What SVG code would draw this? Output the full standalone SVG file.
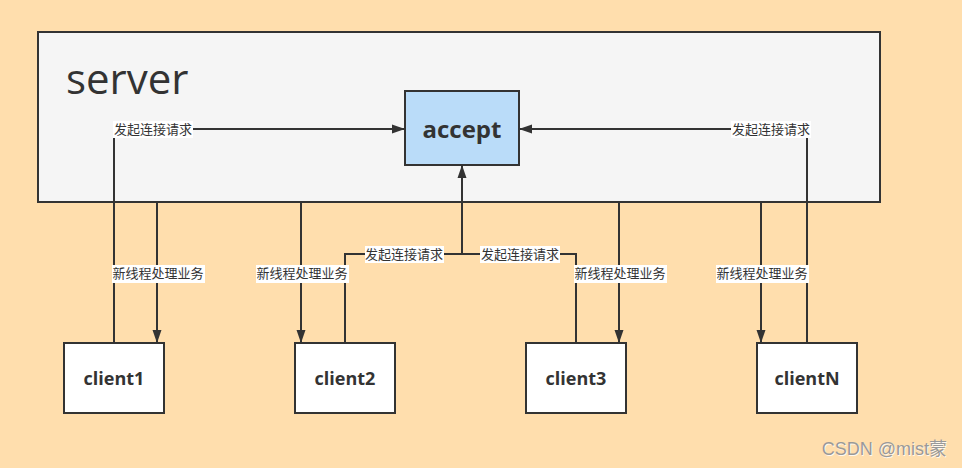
<svg xmlns="http://www.w3.org/2000/svg" width="962" height="468" viewBox="0 0 962 468">
<defs>
<style>
.box{stroke:#333;stroke-width:2}
.node-text{font-family:"Open Sans","Noto Sans",sans-serif;font-weight:bold;fill:#333;text-anchor:middle}
.edge{fill:none;stroke:#333;stroke-width:2}
.lbl-bg{fill:#fff}
.lbl{font-family:"Noto Sans CJK SC","Noto Sans",sans-serif;font-size:13px;fill:#333;text-anchor:middle}
</style>
<marker id="arr" markerUnits="userSpaceOnUse" markerWidth="14" markerHeight="10" refX="13" refY="5" orient="auto" viewBox="0 0 14 10">
<path d="M0,0.5 L13,5 L0,9.5 Z" fill="#333"/>
</marker>
</defs>
<rect width="962" height="468" fill="#FFDEAD"/>
<g id="server">
<rect class="box" x="38" y="32" width="842" height="170" fill="#F5F5F5"/>
<text x="66" y="94" font-family="Open Sans, Noto Sans, sans-serif" font-size="42" fill="#333">server</text>
</g>
<g id="accept">
<rect class="box" x="405" y="91" width="114" height="74" fill="#BADCF9"/>
<text class="node-text" x="462" y="138" font-size="24">accept</text>
</g>
<g id="client1">
<rect class="box" x="64" y="343" width="100" height="70" fill="#fff"/>
<text class="node-text" x="114" y="385" font-size="18">client1</text>
</g>
<g id="client2">
<rect class="box" x="295" y="343" width="100" height="70" fill="#fff"/>
<text class="node-text" x="345" y="385" font-size="18">client2</text>
</g>
<g id="client3">
<rect class="box" x="526" y="343" width="100" height="70" fill="#fff"/>
<text class="node-text" x="576" y="385" font-size="18">client3</text>
</g>
<g id="clientN">
<rect class="box" x="757" y="343" width="100" height="70" fill="#fff"/>
<text class="node-text" x="807" y="385" font-size="18">clientN</text>
</g>
<g id="connectors">
<path class="edge" d="M114,343 V129 H405" marker-end="url(#arr)"/>
<path class="edge" d="M807,343 V129 H519" marker-end="url(#arr)"/>
<path class="edge" d="M345,343 V254 H462 V165" marker-end="url(#arr)"/>
<path class="edge" d="M576,343 V254 H462"/>
<path class="edge" d="M157,202 V343" marker-end="url(#arr)"/>
<path class="edge" d="M301,202 V343" marker-end="url(#arr)"/>
<path class="edge" d="M619,202 V343" marker-end="url(#arr)"/>
<path class="edge" d="M761,202 V343" marker-end="url(#arr)"/>
<g id="labels">
<rect class="lbl-bg" x="113" y="121" width="80" height="17"/>
<text class="lbl" x="153" y="134">发起连接请求</text>
<rect class="lbl-bg" x="731" y="121" width="80" height="17"/>
<text class="lbl" x="771" y="134">发起连接请求</text>
<rect class="lbl-bg" x="365" y="246" width="79" height="17"/>
<text class="lbl" x="404" y="259">发起连接请求</text>
<rect class="lbl-bg" x="480" y="246" width="80" height="17"/>
<text class="lbl" x="520" y="259">发起连接请求</text>
<rect class="lbl-bg" x="112" y="265" width="93" height="18"/>
<text class="lbl" x="158" y="278">新线程处理业务</text>
<rect class="lbl-bg" x="256" y="265" width="93" height="18"/>
<text class="lbl" x="302" y="278">新线程处理业务</text>
<rect class="lbl-bg" x="574" y="265" width="93" height="18"/>
<text class="lbl" x="620" y="278">新线程处理业务</text>
<rect class="lbl-bg" x="716" y="265" width="93" height="18"/>
<text class="lbl" x="762" y="278">新线程处理业务</text>
</g>
</g>
<text x="948" y="456" text-anchor="end" font-family="Liberation Sans, Noto Sans CJK SC, sans-serif" font-size="18" fill="#fff" opacity="0.8">CSDN @mist蒙</text>
<text x="947" y="455" text-anchor="end" font-family="Liberation Sans, Noto Sans CJK SC, sans-serif" font-size="18" fill="#999">CSDN @mist蒙</text>
</svg>
